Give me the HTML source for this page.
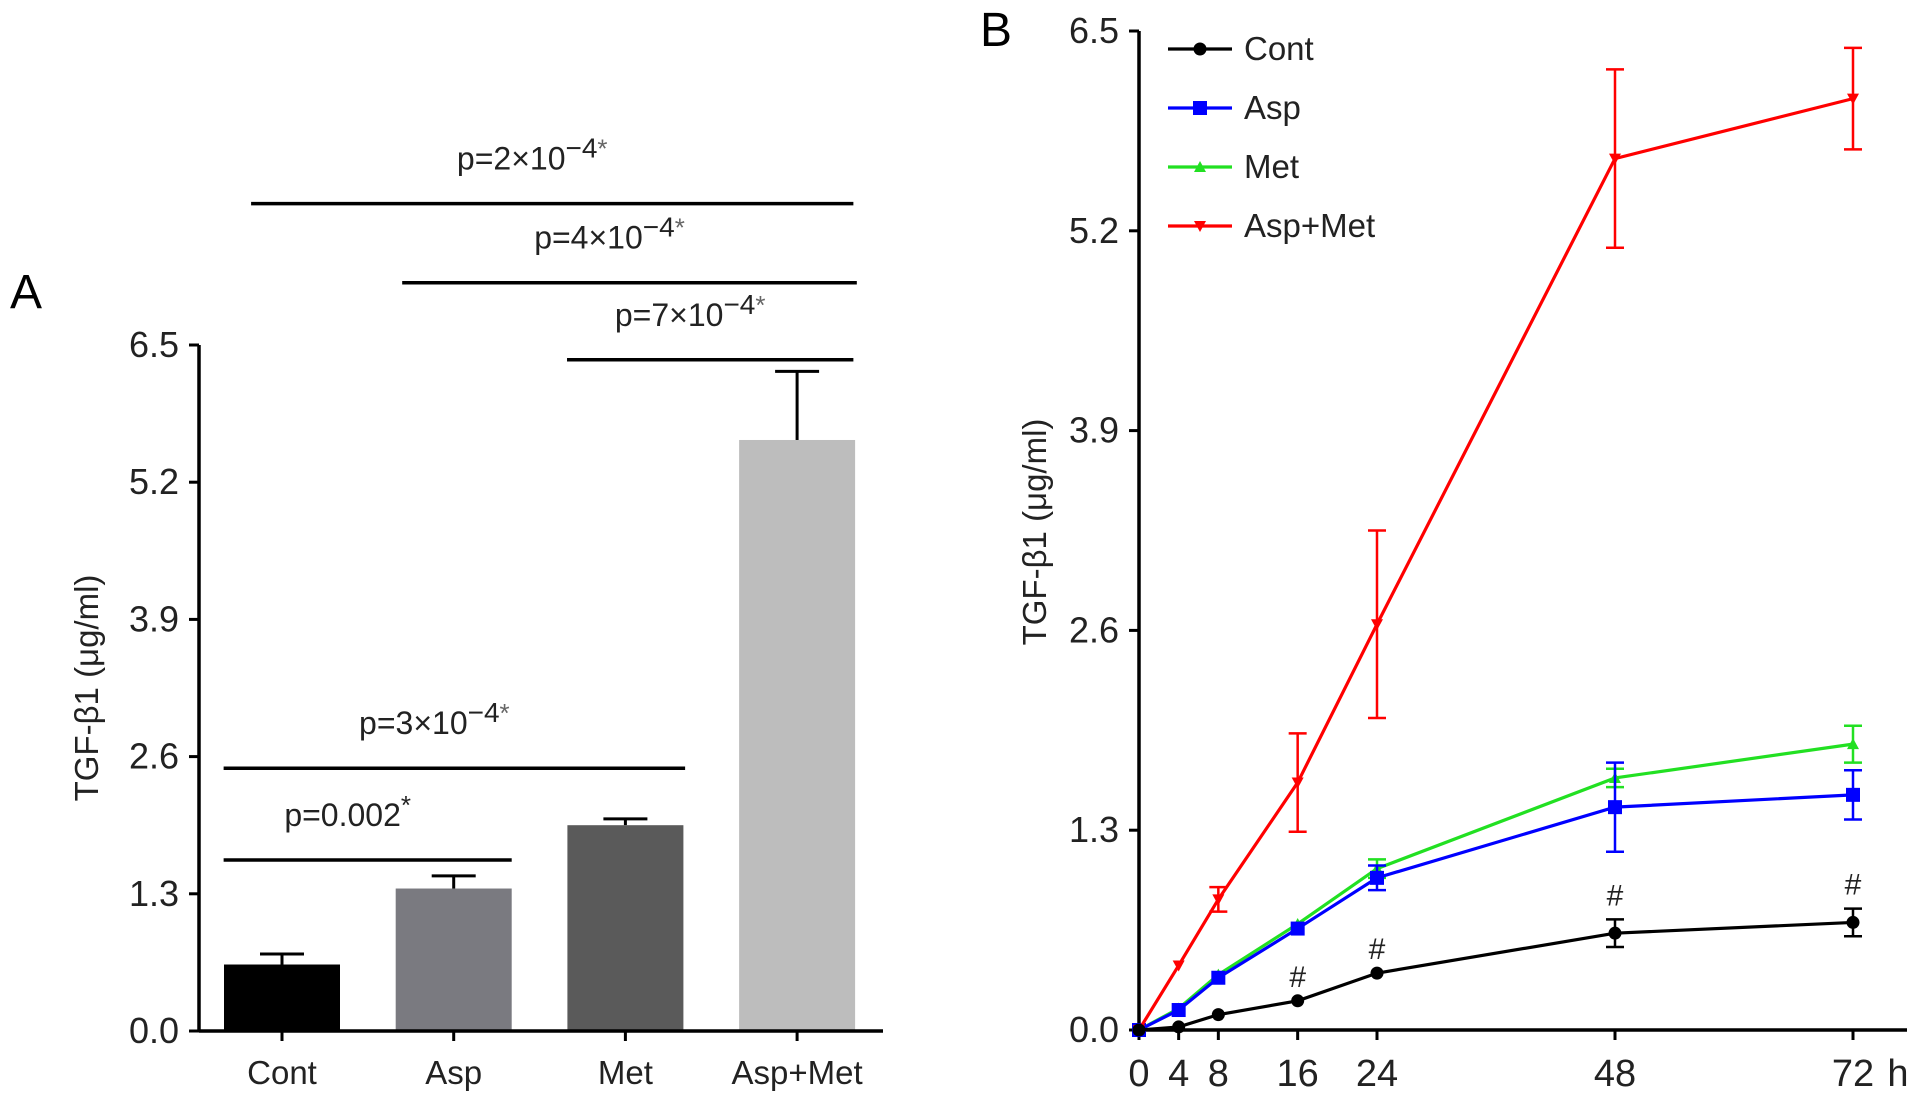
<!DOCTYPE html>
<html><head><meta charset="utf-8"><style>
html,body{margin:0;padding:0;background:#fff}
svg{display:block;font-family:"Liberation Sans",Arial,sans-serif}
</style></head><body>
<svg id="chart" width="1913" height="1102" viewBox="0 0 1913 1102">
<g id="panelA"></g>
<g id="panelB"></g>
</svg>
<script>
const NS='http://www.w3.org/2000/svg';
// ---------- Panel A data ----------
const aCategories=['Cont','Asp','Met','Asp+Met'];
const aValues=[0.63,1.35,1.95,5.6];
const aErrors=[0.10,0.12,0.06,0.65];
const aColors=['#000000','#7a7a80','#5a5a5a','#bdbdbd'];
const yTicks=[0.0,1.3,2.6,3.9,5.2,6.5];
const aSigLabels=['2×10','4×10','7×10','3×10','0.002'];
const aSigFrom=[-0.18,0.70,1.66,-0.34,-0.34];
const aSigTo=[2.99,3.01,2.99,2.01,1.0];
const aSigLevel=[7.84,7.09,6.36,2.49,1.62];
// ---------- Panel B data ----------
const bTimes=[0,4,8,16,24,48,72];
const bSeriesNames=['Cont','Asp','Met','Asp+Met'];
const bCont=[0,0.02,0.10,0.19,0.37,0.63,0.70];
const bContErr=[0,0,0,0,0,0.09,0.09];
const bAsp=[0,0.13,0.34,0.66,0.99,1.45,1.53];
const bAspErr=[0,0,0,0,0.08,0.29,0.16];
const bMet=[0,0.14,0.36,0.69,1.05,1.64,1.86];
const bMetErr=[0,0,0,0,0.06,0.06,0.12];
const bAM=[0,0.42,0.85,1.61,2.64,5.67,6.06];
const bAMErr=[0,0,0.08,0.32,0.61,0.58,0.33];
const bHashTimes=[16,24,48,72];
const bColors=['#000000','#0000ff','#22e022','#ff0000'];

function el(tag,attrs,parent,text){const e=document.createElementNS(NS,tag);for(const k in attrs)e.setAttribute(k,attrs[k]);if(text!==undefined)e.textContent=text;parent.appendChild(e);return e;}

// ===== Panel A =====
(function(){
const g=document.getElementById('panelA');
const x0=199,xEnd=883,yB=1031,yT=345;
const ys=v=>yB-(v/6.5)*(yB-yT);
const xc=i=>282+i*171.7;
const bw=116;
let t=el('text',{x:10,y:308,'font-size':48},g,'A');

aCategories.forEach((c,i)=>{
  const v=aValues[i],e=aErrors[i],x=xc(i);
  const ln=el('line',{x1:x,x2:x,y1:ys(v),y2:ys(v+e),stroke:'#000','stroke-width':3},g);
  
  el('line',{x1:x-22,x2:x+22,y1:ys(v+e),y2:ys(v+e),stroke:'#000','stroke-width':3},g);
  const r=el('rect',{x:x-bw/2,y:ys(v),width:bw,height:yB-ys(v),fill:aColors[i]},g);
  
  el('line',{x1:x,x2:x,y1:yB,y2:yB+10,stroke:'#000','stroke-width':3},g);
  const lb=el('text',{x:x,y:1084,'font-size':33,'text-anchor':'middle',fill:'#222'},g,c);
  
});
el('line',{x1:x0,x2:x0,y1:yT,y2:yB+1,stroke:'#000','stroke-width':3.5},g);
el('line',{x1:x0,x2:xEnd,y1:yB,y2:yB,stroke:'#000','stroke-width':3.5},g);
yTicks.forEach(v=>{
  el('line',{x1:x0-10,x2:x0,y1:ys(v),y2:ys(v),stroke:'#000','stroke-width':3},g);
  const tl=el('text',{x:x0-20,y:ys(v)+12,'font-size':36,'text-anchor':'end',fill:'#222'},g,v.toFixed(1));
  
});
const yl=el('text',{transform:'translate(98,688) rotate(-90)','font-size':33,'text-anchor':'middle',fill:'#222'},g,'TGF-β1 (μg/ml)');

aSigLabels.forEach((s,i)=>{
  const y=ys(aSigLevel[i]);
  const x1=xc(aSigFrom[i]),x2=xc(aSigTo[i])+bw/2;
  const l=el('line',{x1:x1,x2:x2,y1:y,y2:y,stroke:'#000','stroke-width':3.5},g);
  
  const tx=el('text',{x:(x1+x2)/2-20,y:y-34,'font-size':32,'text-anchor':'middle',fill:'#222'},g);
  
  if(s==='0.002'){
    el('tspan',{},tx,'p=0.002');
    el('tspan',{dy:-12,'font-size':26},tx,'*');
  } else {
    el('tspan',{},tx,'p='+s);
    el('tspan',{dy:-12,'font-size':28},tx,'−4');
    el('tspan',{'font-size':26,fill:'#666'},tx,'*');
  }
});
})();

// ===== Panel B =====
(function(){
const g=document.getElementById('panelB');
const x0=1139,x72=1853,xEnd=1907,yB=1030,yT=31;
const xs=t=>x0+(t/72)*(x72-x0);
const ys=v=>yB-(v/6.5)*(yB-yT);
let t=el('text',{x:980,y:46,'font-size':48},g,'B');

el('line',{x1:x0,x2:x0,y1:yT,y2:yB+1,stroke:'#000','stroke-width':3.5},g);
el('line',{x1:x0,x2:xEnd,y1:yB,y2:yB,stroke:'#000','stroke-width':3.5},g);
yTicks.forEach(v=>{
  el('line',{x1:x0-10,x2:x0,y1:ys(v),y2:ys(v),stroke:'#000','stroke-width':3},g);
  const tl=el('text',{x:x0-20,y:ys(v)+12,'font-size':36,'text-anchor':'end',fill:'#222'},g,v.toFixed(1));
  
});
bTimes.forEach(tm=>{
  el('line',{x1:xs(tm),x2:xs(tm),y1:yB,y2:yB+10,stroke:'#000','stroke-width':3},g);
  const tl=el('text',{x:xs(tm),y:1086,'font-size':38,'text-anchor':'middle',fill:'#222'},g,String(tm));
  
});
const hl=el('text',{x:1898,y:1086,'font-size':38,'text-anchor':'middle',fill:'#222'},g,'h');

const yl=el('text',{transform:'translate(1046,532) rotate(-90)','font-size':33,'text-anchor':'middle',fill:'#222'},g,'TGF-β1 (μg/ml)');

const series=[[bCont,bContErr],[bAsp,bAspErr],[bMet,bMetErr],[bAM,bAMErr]];
function marker(k,x,y,parent){
  const c=bColors[k];
  if(k===0)return el('circle',{cx:x,cy:y,r:6.5,fill:c},parent);
  if(k===1)return el('rect',{x:x-7,y:y-7,width:14,height:14,fill:c},parent);
  if(k===2)return el('polygon',{points:`${x},${y-6} ${x-6},${y+5} ${x+6},${y+5}`,fill:c},parent);
  return el('polygon',{points:`${x-6},${y-5} ${x+6},${y-5} ${x},${y+6}`,fill:c},parent);
}
[2,1,3,0].forEach(k=>{
  const [vals,errs]=series[k];const c=bColors[k];
  const sg=el('g',{},g);
  
  errs.forEach((e,i)=>{
    if(e<=0)return;const x=xs(bTimes[i]);
    el('line',{x1:x,x2:x,y1:ys(vals[i]-e),y2:ys(vals[i]+e),stroke:c,'stroke-width':2.5},sg);
    el('line',{x1:x-9,x2:x+9,y1:ys(vals[i]-e),y2:ys(vals[i]-e),stroke:c,'stroke-width':2.5},sg);
    el('line',{x1:x-9,x2:x+9,y1:ys(vals[i]+e),y2:ys(vals[i]+e),stroke:c,'stroke-width':2.5},sg);
  });
  const pts=vals.map((v,i)=>xs(bTimes[i])+','+ys(v)).join(' ');
  const pl=el('polyline',{points:pts,fill:'none',stroke:c,'stroke-width':3.2},sg);
  
  vals.forEach((v,i)=>{const m=marker(k,xs(bTimes[i]),ys(v),sg);
    });
});
bHashTimes.forEach(tm=>{
  const i=bTimes.indexOf(tm);const top=bCont[i]+bContErr[i];
  const h=el('text',{x:xs(tm),y:ys(top)-14,'font-size':30,'text-anchor':'middle',fill:'#222'},g,'#');
  
});
bSeriesNames.forEach((n,k)=>{
  const y=49+k*59;
  const lg=el('g',{},g);
  
  el('line',{x1:1168,x2:1232,y1:y,y2:y,stroke:bColors[k],'stroke-width':3.2},lg);
  marker(k,1200,y,lg);
  el('text',{x:1244,y:y+11,'font-size':33,fill:'#222'},lg,n);
});
})();
</script>
</body></html>
